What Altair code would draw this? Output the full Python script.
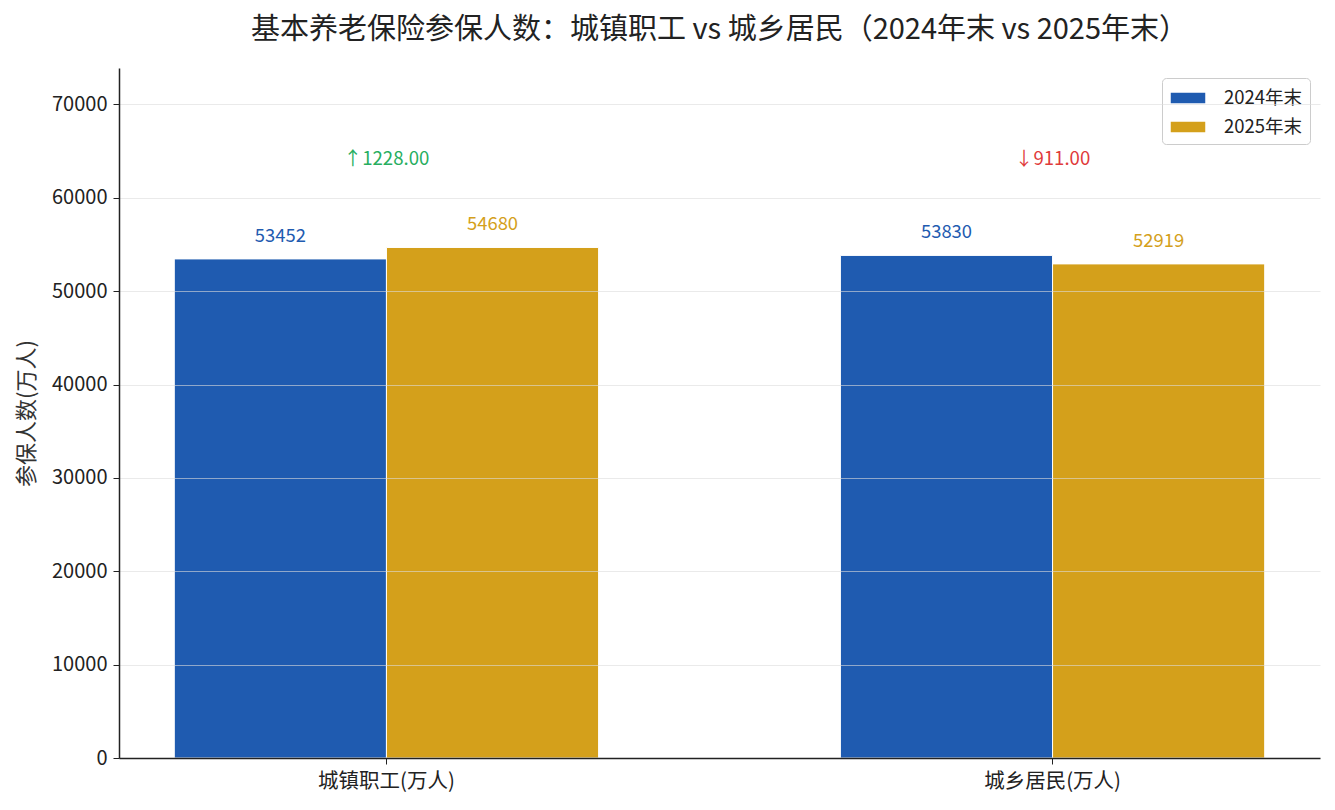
import pandas as pd
import altair as alt

# chart data
categories = ["城镇职工(万人)", "城乡居民(万人)"]
years = ["2024年末", "2025年末"]
values_2024 = [53452, 53830]
values_2025 = [54680, 52919]
y_ticks = [0, 10000, 20000, 30000, 40000, 50000, 60000, 70000]
y_max = 73900
note_y = 64200  # height of the change labels

blue = "#1f5bb0"
gold = "#d4a01b"
green = "#27ae60"
red = "#e03b3b"
font = "Noto Sans CJK SC"

bars = pd.DataFrame({
    "category": categories * 2,
    "year": [years[0]] * 2 + [years[1]] * 2,
    "value": values_2024 + values_2025,
})

diffs = [b - a for a, b in zip(values_2024, values_2025)]
notes = pd.DataFrame({
    "category": categories,
    "diff": diffs,
    "label": [("↑" if d > 0 else "↓") + f"{abs(d):.2f}" for d in diffs],
    "value": [note_y] * len(categories),
})

x_enc = alt.X(
    "category:N", sort=categories, title=None,
    scale=alt.Scale(paddingInner=0.363, paddingOuter=0.083),
    axis=alt.Axis(labelAngle=0, labelFontSize=20.5, labelPadding=7, tickSize=6,
                  grid=False, domainColor="#222", domainWidth=1.5, zindex=2,
                  tickColor="#222", labelColor="#222", labelFont=font),
)
y_enc = alt.Y(
    "value:Q", scale=alt.Scale(domain=[0, y_max], nice=False),
    axis=alt.Axis(title="参保人数(万人)", values=y_ticks, format="d",
                  labelFontSize=20, labelPadding=6, tickSize=6, labelColor="#222",
                  tickColor="#222", domainColor="#222", domainWidth=1.5,
                  gridColor="#dcdcdc", gridOpacity=0.6, gridWidth=1, zindex=1,
                  titleFontSize=22, titleFontWeight="normal", titleColor="#333",
                  titleFont=font, labelFont=font, titleX=-81, titleY=345),
)
xoff = alt.XOffset("year:N", sort=years)

bar_layer = alt.Chart(bars).mark_bar(stroke="white", strokeWidth=1).encode(
    x=x_enc, y=y_enc, xOffset=xoff,
    color=alt.Color("year:N", sort=years, title=None,
                    scale=alt.Scale(domain=years, range=[blue, gold])),
)

def value_text(year, col):
    return alt.Chart(bars).transform_filter(
        alt.datum.year == year
    ).mark_text(font=font, fontSize=18.4, color=col, baseline="middle", dy=-23).encode(
        x=x_enc, y=y_enc, xOffset=xoff, text="value:Q",
    )

note_layer = alt.Chart(notes).mark_text(font=font, fontSize=18.6, baseline="middle").encode(
    x=x_enc, y=y_enc, text="label:N",
    color=alt.condition("datum.diff > 0", alt.value(green), alt.value(red)),
)

chart = alt.layer(
    bar_layer, value_text(years[0], blue), value_text(years[1], gold), note_layer
).properties(
    width=1201, height=690,
    title=alt.TitleParams("基本养老保险参保人数：城镇职工 vs 城乡居民（2024年末 vs 2025年末）",
                          fontSize=29, font=font, fontWeight="normal", color="#222",
                          anchor="middle", offset=23),
    autosize=alt.AutoSizeParams(type="none"),
    padding={"left": 111, "top": 60, "right": 7, "bottom": 44},
).configure_view(
    stroke=None
).configure_legend(
    orient="top-right", offset=10, fillColor="white", strokeColor="#cccccc",
    cornerRadius=4, padding=7, symbolType="M-1,-0.5H2V0.5H-1Z",
    symbolSize=576, symbolOpacity=1, labelFontSize=18.5, labelFont=font,
    labelColor="#222", labelOffset=29, rowPadding=6,
)

chart.save("out.html", embed_options={"renderer": "svg", "actions": False})
